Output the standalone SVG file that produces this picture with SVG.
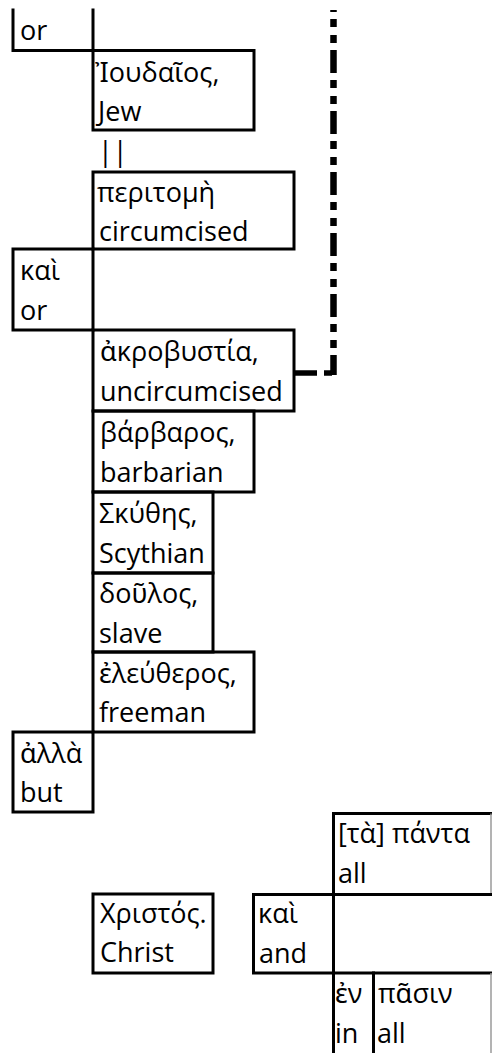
<svg xmlns="http://www.w3.org/2000/svg" width="492" height="1053" viewBox="0 0 492 1053">
<style>
.b{fill:none;stroke:#000;stroke-width:3;stroke-linejoin:miter;stroke-linecap:square}
.g{fill:none;stroke:#9a9a9a;stroke-width:1.5}
.t{font-family:"Open Sans","Noto Sans","DejaVu Sans",sans-serif;font-size:27px;fill:#000}
.d{fill:none;stroke:#000;stroke-dasharray:23 7 8 8 8 7}
</style>
<rect width="492" height="1053" fill="#fff"/>
<g id="connectors">
<path class="d" stroke-width="6.5" stroke-dashoffset="21" d="M333.5 10 V375"/>
<path class="d" stroke-width="5.5" d="M294 373 H337"/>
<text class="t" x="98" y="161">||</text>
</g>
<g id="n-or-top">
<path class="b" d="M13 10 V50.5 H93 M93 10 V50.5"/>
<text class="t" x="20" y="40">or</text>
</g>
<g id="n-ioudaios">
<rect class="b" x="93" y="50.5" width="161" height="79.5"/>
<text class="t" x="95" y="82">Ἰουδαῖος,</text>
<text class="t" x="98" y="121">Jew</text>
</g>
<g id="n-peritome">
<rect class="b" x="93" y="172" width="201" height="77"/>
<text class="t" x="97" y="202">περιτομὴ</text>
<text class="t" x="99" y="241">circumcised</text>
</g>
<g id="n-kai-or">
<rect class="b" x="13" y="249" width="80" height="81"/>
<text class="t" x="20" y="280">καὶ</text>
<text class="t" x="20" y="320">or</text>
</g>
<g id="n-akrobystia">
<rect class="b" x="93" y="330" width="201" height="81"/>
<text class="t" x="100" y="361">ἀκροβυστία,</text>
<text class="t" x="100" y="401">uncircumcised</text>
</g>
<g id="n-barbaros">
<rect class="b" x="93" y="411" width="161" height="81"/>
<text class="t" x="100" y="442">βάρβαρος,</text>
<text class="t" x="100" y="482">barbarian</text>
</g>
<g id="n-skythes">
<rect class="b" x="93" y="492" width="120" height="81"/>
<text class="t" x="99" y="523">Σκύθης,</text>
<text class="t" x="99" y="563">Scythian</text>
</g>
<g id="n-doulos">
<rect class="b" x="93" y="573" width="120" height="79"/>
<text class="t" x="99" y="603">δοῦλος,</text>
<text class="t" x="99" y="643">slave</text>
</g>
<g id="n-eleutheros">
<rect class="b" x="93" y="652" width="161" height="80"/>
<text class="t" x="99" y="683">ἐλεύθερος,</text>
<text class="t" x="99" y="722">freeman</text>
</g>
<g id="n-alla">
<rect class="b" x="13" y="732" width="80" height="80"/>
<text class="t" x="20" y="763">ἀλλὰ</text>
<text class="t" x="20" y="802">but</text>
</g>
<g id="n-panta">
<path class="b" d="M491 813.5 H333.5 V894.5"/>
<path class="g" d="M491 813.5 V894.5"/>
<text class="t" x="338" y="843">[τὰ] πάντα</text>
<text class="t" x="338" y="883">all</text>
</g>
<g id="n-christos">
<rect class="b" x="93" y="894" width="120" height="79"/>
<text class="t" x="100" y="923">Χριστός.</text>
<text class="t" x="100" y="962">Christ</text>
</g>
<g id="n-kai-and">
<path class="b" d="M492 894.5 H253.5 V973 H492 M333.5 894.5 V973"/>
<text class="t" x="258" y="923">καὶ</text>
<text class="t" x="259" y="963">and</text>
</g>
<g id="n-en">
<path class="b" d="M333.5 973 V1056 M373.5 973 V1056"/>
<text class="t" x="335" y="1003">ἐν</text>
<text class="t" x="335" y="1043">in</text>
</g>
<g id="n-pasin">
<path class="g" d="M491 973 V1053"/>
<text class="t" x="378" y="1003">πᾶσιν</text>
<text class="t" x="377" y="1043">all</text>
</g>
</svg>
